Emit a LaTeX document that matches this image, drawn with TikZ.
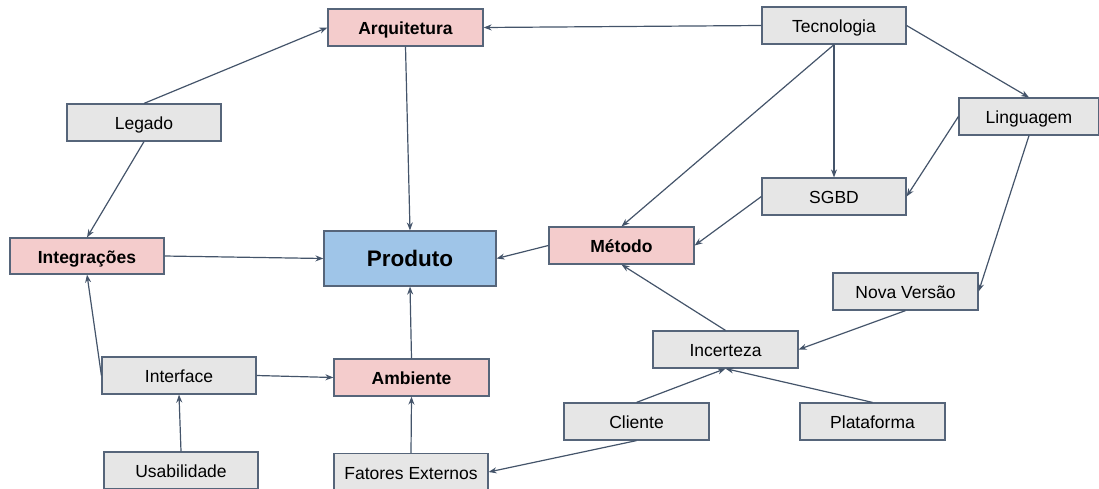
\documentclass[tikz,border=0pt]{standalone}
\usepackage{fontspec}
\setmainfont{Liberation Sans}
\usetikzlibrary{arrows.meta}
\definecolor{boxline}{HTML}{56657A}
\definecolor{edgeline}{HTML}{44546A}
\definecolor{grayfill}{HTML}{E6E6E6}
\definecolor{pinkfill}{HTML}{F4CCCC}
\definecolor{bluefill}{HTML}{9FC5E8}
\tikzset{
  x=1pt, y=-1pt,
  box/.style={draw=boxline, line width=1.2pt, rectangle, inner sep=0pt,
    minimum height=37pt, text height=15.8pt, text depth=0.9pt,
    font=\fontsize{17.5}{20}\selectfont},
  graybox/.style={box, fill=grayfill},
  keybox/.style={box, fill=pinkfill, font=\fontsize{17.5}{20}\selectfont\bfseries},
  mainbox/.style={box, fill=bluefill, text height=16.1pt, text depth=0pt,
    font=\fontsize{22.5}{26}\selectfont\bfseries},
  link/.style={draw=edgeline, line width=1.2pt, -{Stealth[length=8pt,width=6pt]}}
}
\begin{document}
\begin{tikzpicture}
\useasboundingbox (0,0) rectangle (1099,488);

% boxes
\node[keybox, minimum width=155pt] (arq) at (405.5,27.5) {Arquitetura};
\node[graybox, minimum width=144pt] (tec) at (834,25.5) {Tecnologia};
\node[graybox, minimum width=140pt] (lin) at (1029,116.5) {Linguagem};
\node[graybox, minimum width=144pt] (sgbd) at (834,196.5) {SGBD};
\node[graybox, minimum width=154pt] (leg) at (144,122.5) {Legado};
\node[keybox, minimum width=154pt, minimum height=36pt] (int) at (87,256) {Integrações};
\node[mainbox, minimum width=172pt, minimum height=55pt] (prod) at (410,258.5) {Produto};
\node[keybox, minimum width=145pt] (met) at (621.5,245.5) {Método};
\node[graybox, minimum width=145pt] (nova) at (905.5,291.5) {Nova Versão};
\node[graybox, minimum width=145pt] (inc) at (725.5,349.5) {Incerteza};
\node[graybox, minimum width=154pt] (iface) at (179,375.5) {Interface};
\node[keybox, minimum width=155pt] (amb) at (411.5,377.5) {Ambiente};
\node[graybox, minimum width=154pt] (usa) at (181,470.5) {Usabilidade};
\node[graybox, minimum width=154pt] (fat) at (411,472) {Fatores Externos};
\node[graybox, minimum width=145pt] (cli) at (636.5,421.5) {Cliente};
\node[graybox, minimum width=145pt] (pla) at (872.5,421.5) {Plataforma};

% connections
\draw[link] (tec.west) -- (arq.east);
\draw[link] (leg.north) -- (arq.west);
\draw[link] (leg.south) -- (int.north);
\draw[link] (arq.south) -- (prod.north);
\draw[link] (int.east) -- (prod.west);
\draw[link] (met.west) -- (prod.east);
\draw[link] (amb.north) -- (prod.south);
\draw[link] (tec.south) -- (met.north);
\draw[link] (tec.south) -- (sgbd.north);
\draw[link] (tec.east) -- (lin.north);
\draw[link] (lin.west) -- (sgbd.east);
\draw[link] (sgbd.west) -- (met.east);
\draw[link] (lin.south) -- (nova.east);
\draw[link] (nova.south) -- (inc.east);
\draw[link] (inc.north) -- (met.south);
\draw[link] (cli.north) -- (inc.south);
\draw[link] (pla.north) -- (inc.south);
\draw[link] (cli.south) -- (fat.east);
\draw[link] (iface.west) -- (int.south);
\draw[link] (iface.east) -- (amb.west);
\draw[link] (usa.north) -- (iface.south);
\draw[link] (fat.north) -- (amb.south);
\end{tikzpicture}
\end{document}
